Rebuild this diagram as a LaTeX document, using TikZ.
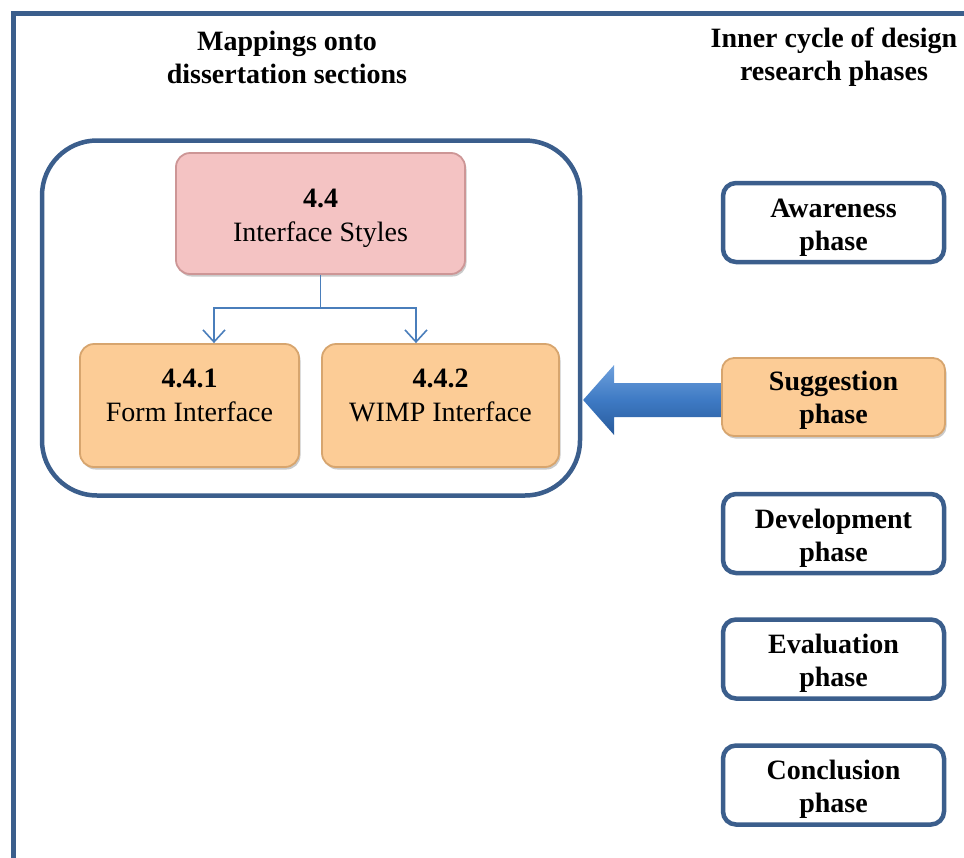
\documentclass[tikz,border=0pt]{standalone}
\usepackage{fontspec}
\setmainfont{Liberation Serif}
\usetikzlibrary{arrows.meta,calc,shadows,backgrounds}
\definecolor{frameblue}{RGB}{59,94,140}
\definecolor{linkblue}{RGB}{74,126,187}
\definecolor{pinkfill}{RGB}{244,195,195}
\definecolor{pinkedge}{RGB}{205,150,150}
\definecolor{orangefill}{RGB}{252,204,150}
\definecolor{orangeedge}{RGB}{215,165,110}
\definecolor{arrowlight}{RGB}{110,160,220}
\definecolor{arrowmid}{RGB}{62,122,196}
\definecolor{arrowdark}{RGB}{40,90,155}
\newcommand{\toplift}{\rule{0pt}{28pt}}
\begin{document}
\begin{tikzpicture}[x=1pt,y=-1pt,
  every node/.style={font=\fontsize{28}{33}\selectfont, align=center, inner sep=0pt},
  heading/.style={font=\fontsize{28}{33}\selectfont\bfseries},
  bevelbox/.style={rounded corners=14pt, line width=1.8pt,
    drop shadow={shadow xshift=1.5pt, shadow yshift=-2.5pt, opacity=0.35, fill=black!60}},
  pinkbox/.style={bevelbox, fill=pinkfill, draw=pinkedge},
  orangebox/.style={bevelbox, fill=orangefill, draw=orangeedge},
  phasebox/.style={draw=frameblue, fill=white, line width=4.5pt, rounded corners=13pt,
    minimum width=221pt, minimum height=79pt, font=\fontsize{28}{33}\selectfont\bfseries},
  link/.style={draw=linkblue, line width=1.6pt, -{Straight Barb[length=12pt,width=22pt,line width=1.6pt]}}
]
\useasboundingbox (0,0) rectangle (964,857);

% outer frame
\draw[frameblue, line width=5pt] (970,13) -- (13,13) -- (13,870);

% headings
\node[heading] (hleft) at (287,57.5) {Mappings onto\\dissertation sections};
\node[heading] (hright) at (834,57.5) {Inner cycle of design\\research phases};

% container
\node[draw=frameblue, line width=4.5pt, rounded corners=55pt,
      minimum width=538pt, minimum height=355pt] (cont) at (311,318) {};

% section boxes
\node[pinkbox, minimum width=289pt, minimum height=121pt] (top) at (320.5,213.5) {};
\node (toptext) at (top.center) {\toplift\textbf{4.4}\\[1pt]Interface Styles};
\node[orangebox, minimum width=219pt, minimum height=123pt] (b1) at (189.5,405.5) {};
\node (b1text) at ($(b1.center)+(0,-10)$) {\textbf{4.4.1}\\[1pt]Form Interface};
\node[orangebox, minimum width=237pt, minimum height=123pt] (b2) at (440.5,405.5) {};
\node (b2text) at ($(b2.center)+(0,-10)$) {\textbf{4.4.2}\\[1pt]WIMP Interface};

% connectors
\draw[link] (top.south) -- ++(0,33) -| ([xshift=24.5pt]b1.north);
\draw[link] (top.south) -- ++(0,33) -| ([xshift=-24.5pt]b2.north);

% phase boxes
\node[phasebox] (aw) at (833.5,222.5) {\toplift Awareness\\phase};
\node[orangebox, minimum width=223pt, minimum height=78pt, font=\fontsize{28}{33}\selectfont\bfseries, rounded corners=12pt] (sug) at (833.5,397) {\rule{0pt}{25pt}Suggestion\\phase};
\node[phasebox] (dev) at (833.5,533.5) {\toplift Development\\phase};
\node[phasebox] (eva) at (833.5,659) {\toplift Evaluation\\phase};
\node[phasebox] (con) at (833.5,785) {\toplift Conclusion\\phase};

% block arrow from suggestion to container
\begin{scope}[on background layer]
\shade[top color=arrowlight, bottom color=arrowdark, middle color=arrowmid]
  ($(sug.west)+(-138,3)$) -- ($(sug.west)+(-107,-32)$) -- ($(sug.west)+(-107,-14)$)
  -- ($(sug.west)+(3,-14)$) -- ($(sug.west)+(3,20)$) -- ($(sug.west)+(-107,20)$)
  -- ($(sug.west)+(-107,38)$) -- cycle;
\end{scope}
\end{tikzpicture}
\end{document}
